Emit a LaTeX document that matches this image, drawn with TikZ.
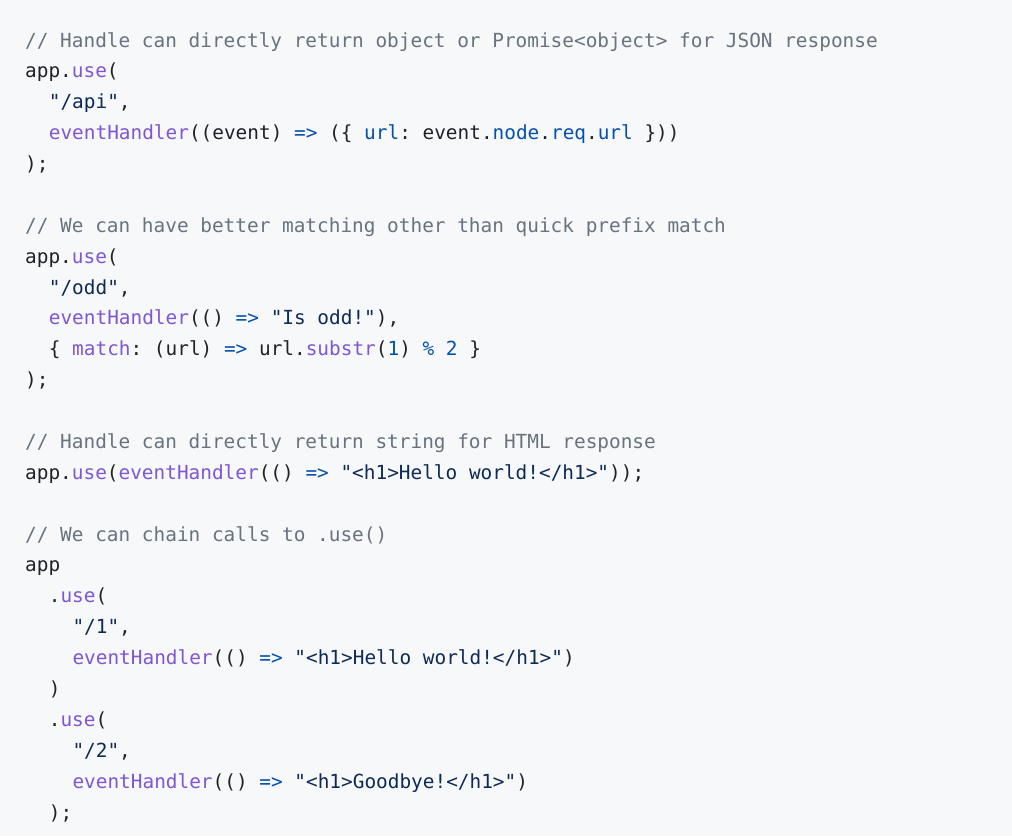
\documentclass[tikz,border=0pt]{standalone}
\usepackage{fontspec}
\newfontfamily\codefont{DejaVu Sans Mono}
\definecolor{bg}{HTML}{F6F8FA}
\definecolor{cm}{HTML}{6A737D}
\definecolor{fn}{HTML}{8056D4}
\definecolor{kw}{HTML}{0550AE}
\definecolor{st}{HTML}{0E2A55}
\definecolor{tx}{HTML}{1F2328}
\newcommand{\C}[1]{\textcolor{cm}{#1}}
\newcommand{\F}[1]{\textcolor{fn}{#1}}
\newcommand{\K}[1]{\textcolor{kw}{#1}}
\newcommand{\Sx}[1]{\textcolor{st}{#1}}
\tikzset{codeline/.style={anchor=base west, inner sep=0pt, text=tx,
  font=\codefont\fontsize{19.4}{24}\selectfont\frenchspacing}}
\begin{document}
\begin{tikzpicture}[x=1pt,y=-1pt]
\fill[bg] (0,0) rectangle (1012,836);
\useasboundingbox (0,0) rectangle (1012,836);
\def\L{30.88}
\def\X{25}
\def\I{11.83}
\node[codeline] (l0) at (\X, 47+0*\L) {\C{// Handle can directly return object or Promise<object> for JSON response}};
\node[codeline] (l1) at (\X, 47+1*\L) {app.\F{use}(};
\node[codeline] (l2) at (\X+2*\I, 47+2*\L) {\Sx{"/api"},};
\node[codeline] (l3) at (\X+2*\I, 47+3*\L) {\F{eventHandler}((event) \K{=>} (\{ \K{url}: event.\K{node}.\K{req}.\K{url} \}))};
\node[codeline] (l4) at (\X, 47+4*\L) {);};
\node[codeline] (l6) at (\X, 47+6*\L) {\C{// We can have better matching other than quick prefix match}};
\node[codeline] (l7) at (\X, 47+7*\L) {app.\F{use}(};
\node[codeline] (l8) at (\X+2*\I, 47+8*\L) {\Sx{"/odd"},};
\node[codeline] (l9) at (\X+2*\I, 47+9*\L) {\F{eventHandler}(() \K{=>} \Sx{"Is odd!"}),};
\node[codeline] (l10) at (\X+2*\I, 47+10*\L) {\{ \F{match}: (url) \K{=>} url.\F{substr}(\K{1}) \K{\%} \K{2} \}};
\node[codeline] (l11) at (\X, 47+11*\L) {);};
\node[codeline] (l13) at (\X, 47+13*\L) {\C{// Handle can directly return string for HTML response}};
\node[codeline] (l14) at (\X, 47+14*\L) {app.\F{use}(\F{eventHandler}(() \K{=>} \Sx{"<h1>Hello world!</h1>"}));};
\node[codeline] (l16) at (\X, 47+16*\L) {\C{// We can chain calls to .use()}};
\node[codeline] (l17) at (\X, 47+17*\L) {app};
\node[codeline] (l18) at (\X+2*\I, 47+18*\L) {.\F{use}(};
\node[codeline] (l19) at (\X+4*\I, 47+19*\L) {\Sx{"/1"},};
\node[codeline] (l20) at (\X+4*\I, 47+20*\L) {\F{eventHandler}(() \K{=>} \Sx{"<h1>Hello world!</h1>"})};
\node[codeline] (l21) at (\X+2*\I, 47+21*\L) {)};
\node[codeline] (l22) at (\X+2*\I, 47+22*\L) {.\F{use}(};
\node[codeline] (l23) at (\X+4*\I, 47+23*\L) {\Sx{"/2"},};
\node[codeline] (l24) at (\X+4*\I, 47+24*\L) {\F{eventHandler}(() \K{=>} \Sx{"<h1>Goodbye!</h1>"})};
\node[codeline] (l25) at (\X+2*\I, 47+25*\L) {);};
\end{tikzpicture}
\end{document}
